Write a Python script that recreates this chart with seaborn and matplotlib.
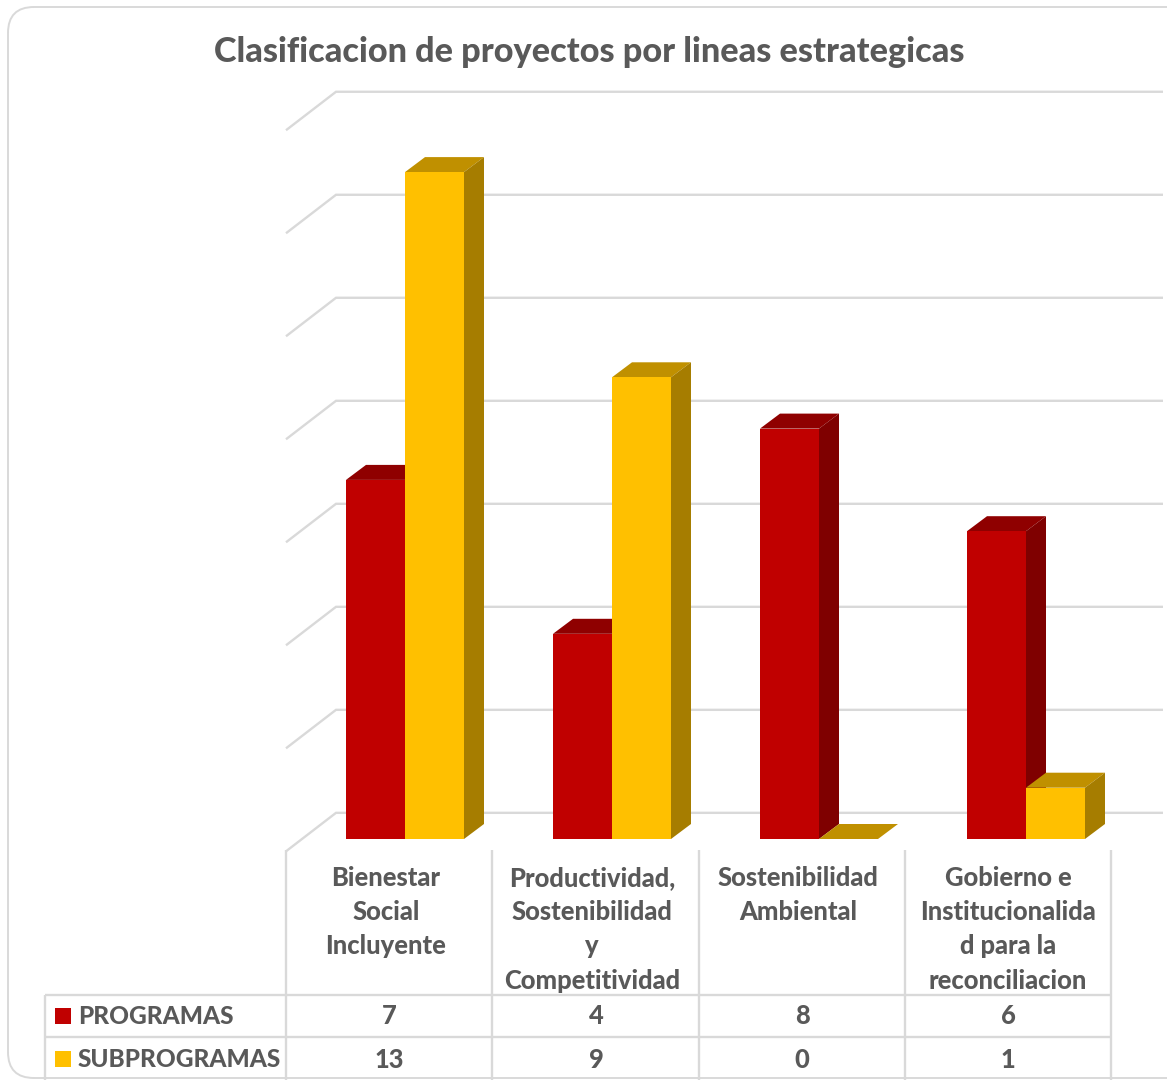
import pandas as pd
import matplotlib
matplotlib.use("Agg")
import matplotlib.pyplot as plt
from matplotlib.patches import FancyBboxPatch, Polygon, Rectangle
import seaborn as sns

# Data
categories = ["Bienestar\nSocial\nIncluyente",
              "Productividad,\nSostenibilidad\ny\nCompetitividad",
              "Sostenibilidad\nAmbiental",
              "Gobierno e\nInstitucionalida\nd para la\nreconciliacion"]
programas = [7, 4, 8, 6]
subprogramas = [13, 9, 0, 1]
series_names = ["PROGRAMAS", "SUBPROGRAMAS"]
grid_values = [0, 2, 4, 6, 8, 10, 12, 14]

df = pd.DataFrame({
    "categoria": categories * 2,
    "serie": [series_names[0]] * 4 + [series_names[1]] * 4,
    "valor": programas + subprogramas,
})

RED = "#c00000"
YELLOW = "#ffc000"
shades = {RED: ("#8f0000", "#7f0000"), YELLOW: ("#c09000", "#a67d00")}
TEXT = "#595959"
LINE = "#d9d9d9"
WEIGHT = 900

sns.set_style("white")
plt.rcParams["font.family"] = ["Lato", "DejaVu Sans"]

W, H = 1167, 1080
fig = plt.figure(figsize=(W / 100, H / 100), dpi=100)

# Overlay in pixels for the card and the data table
bg = fig.add_axes([0, 0, 1, 1])
bg.set_xlim(0, W)
bg.set_ylim(H, 0)
bg.axis("off")
bg.add_patch(FancyBboxPatch((8, 7), W + 40, 1071, boxstyle="round,pad=0,rounding_size=26",
                            fc="white", ec=LINE, lw=1.4))

# Main axes: 207 px per category, 51.3 px per unit, zero at y=839
PX_X, PX_Y = 207, 51.3
BASE = 839
left, right = 405 - PX_X / 2, 405 + 3.5 * PX_X
ax = fig.add_axes([left / W, (H - BASE) / H, (right - left) / W, 14 * PX_Y / H])
ax.patch.set_alpha(0)
sns.barplot(data=df, x="categoria", y="valor", hue="serie", hue_order=series_names,
            palette=[RED, YELLOW], width=0.57, gap=0, legend=False, saturation=1,
            errorbar=None, ax=ax)
ax.set_xlim(-0.5, 3.5)
ax.set_ylim(0, 14)
ax.axis("off")

# Gridlines on the side wall and back wall
x_front = (286 - 405) / PX_X
x_back = (336 - 405) / PX_X
x_end = (1163 - 405) / PX_X
for v in grid_values:
    y = v * 1.004
    ax.plot([x_front, x_back, x_end], [y - 0.24, y + 0.51, y + 0.51], color=LINE, lw=1.7,
            clip_on=False, zorder=1, solid_joinstyle="miter", solid_capstyle="butt")

# 3D faces, taken from the bars seaborn drew
dx, dy = 20 / PX_X, 15 / PX_Y
for bar in ax.patches[:]:
    x0 = bar.get_x()
    x1 = x0 + bar.get_width()
    h = bar.get_height()
    color = RED if matplotlib.colors.to_hex(bar.get_facecolor()) == RED else YELLOW
    z = 2 if color == RED else 4
    top, side = shades[color]
    bar.set_zorder(z + 1)
    bar.set_linewidth(0)
    ax.add_patch(Polygon([(x0, h), (x1, h), (x1 + dx, h + dy), (x0 + dx, h + dy)],
                         fc=top, ec="none", clip_on=False, zorder=z))
    ax.add_patch(Polygon([(x1, 0), (x1 + dx, dy), (x1 + dx, h + dy), (x1, h)],
                         fc=side, ec="none", clip_on=False, zorder=z))

# Title
bg.text(589, 52, "Clasificacion de proyectos por lineas estrategicas", ha="center", va="center",
        fontsize=24.7, fontweight=WEIGHT, color=TEXT)

# Data table
col_lines = [286, 492, 699, 905, 1111]
for x in col_lines:
    bg.plot([x, x], [850, H], color=LINE, lw=1.7, solid_capstyle="butt")
bg.plot([45, 45], [995, H], color=LINE, lw=1.7, solid_capstyle="butt")
for y in [995, 1037]:
    bg.plot([45, 1111], [y, y], color=LINE, lw=1.7, solid_capstyle="butt")

label_x = [386, 592, 798, 1008]
value_x = [389, 596, 802, 1008]
for x, label in zip(label_x, categories):
    for i, line in enumerate(label.split("\n")):
        bg.text(x, 878 + i * 34.2, line, ha="center", va="center", fontsize=18.4,
                fontweight=WEIGHT, color=TEXT)

rows = [(series_names[0], programas, RED, 1016), (series_names[1], subprogramas, YELLOW, 1059)]
for name, vals, color, y in rows:
    bg.add_patch(Rectangle((55, y - 8), 16, 16, fc=color, ec="none"))
    bg.text(78, y + 0.5, name, ha="left", va="center", fontsize=17.6, fontweight=WEIGHT, color=TEXT)
    for x, v in zip(value_x, vals):
        bg.text(x, y + 0.5, str(v), ha="center", va="center", fontsize=18.4, fontweight=WEIGHT, color=TEXT)

fig.savefig("out.png", dpi=100)
